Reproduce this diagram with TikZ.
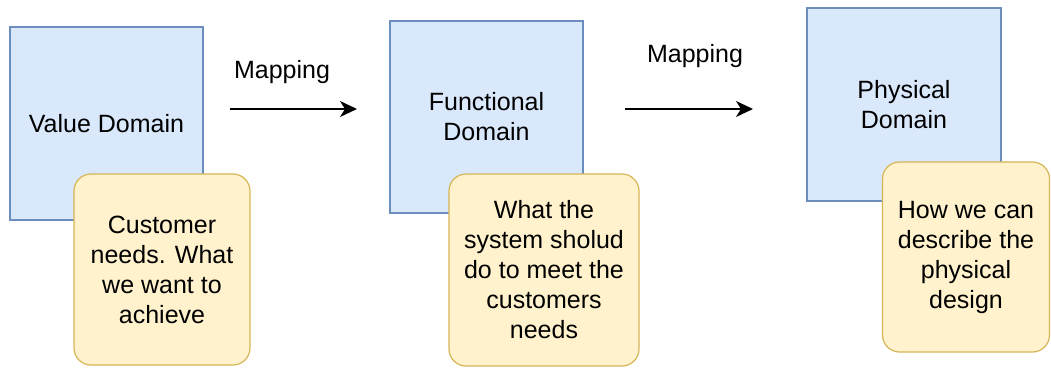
\documentclass[tikz,border=0pt]{standalone}
\usepackage{fontspec}
\setmainfont{Liberation Sans}
\usetikzlibrary{arrows.meta}

\definecolor{domfill}{HTML}{DAE8FC}
\definecolor{domline}{HTML}{6C8EBF}
\definecolor{notefill}{HTML}{FFF2CC}
\definecolor{noteline}{HTML}{D6B656}

\tikzset{
  domainbox/.style={draw=domline, fill=domfill, line width=1.2pt, align=center,
    inner sep=0pt},
  notebox/.style={draw=noteline, fill=notefill, line width=1.2pt, rounded corners=17pt,
    align=center, inner sep=0pt},
  maparrow/.style={-{Stealth[length=17pt,width=16pt,inset=5pt]}, line width=1.6pt}
}

\begin{document}
\begin{tikzpicture}[x=1pt, y=-1pt, font=\fontsize{25}{30}\selectfont]
  \useasboundingbox (0,0) rectangle (1051,371);

  % the three domains
  \node[domainbox, minimum width=193pt, minimum height=193pt] (val) at (106.5,123.5) {Value Domain};
  \node[domainbox, minimum width=193pt, minimum height=192pt] (func) at (486.5,117) {Functional\\Domain};
  \node[domainbox, minimum width=194pt, minimum height=193pt] (phys) at (904,104.5) {Physical\\Domain};

  % notes on top of them
  \node[notebox, minimum width=176pt, minimum height=191pt] (valnote) at (162,269.5)
    {Customer\\needs. What\\we want to\\achieve};
  \node[notebox, minimum width=190pt, minimum height=192pt] (funcnote) at (544,270)
    {What the\\system sholud\\do to meet the\\customers\\needs};
  \node[notebox, minimum width=167pt, minimum height=190pt] (physnote) at (966,257)
    {How we can\\describe the\\physical\\design};

  % mappings
  \coordinate (m1a) at (230,109);
  \coordinate (m1b) at (357,109);
  \coordinate (m2a) at (625,109);
  \coordinate (m2b) at (753,109);
  \draw[maparrow] (m1a) -- (m1b);
  \draw[maparrow] (m2a) -- (m2b);
  \node (map1) at (282,72) {Mapping};
  \node (map2) at (695,56) {Mapping};
\end{tikzpicture}
\end{document}
